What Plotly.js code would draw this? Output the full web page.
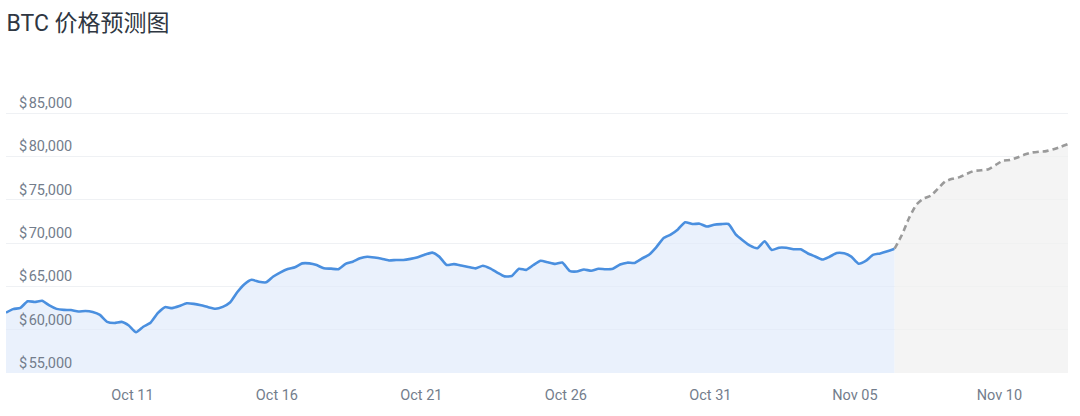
<!DOCTYPE html>
<html>
<head>
<meta charset="utf-8">
<script src="https://cdn.plot.ly/plotly-3.0.1.min.js"></script>
<style>
html,body{margin:0;padding:0;background:#fff;}
#chart{width:1080px;height:416px;}
</style>
</head>
<body>
<div id="chart"></div>
<script>
// Time grid: history starts Oct 6 15:00, 6-hour steps
const startTime = "2024-10-06T15:00:00";
const stepHours = 6;

// Historical BTC prices (USD), every 6 hours
const historyValues = [
  61960, 62370, 62520, 63280, 63200, 63340, 62800, 62400, 62280, 62260,
  62090, 62150, 62030, 61700, 60900, 60770, 60900, 60480, 59710, 60340,
  60800, 61900, 62600, 62480, 62720, 63040, 62980, 62810, 62590, 62410,
  62630, 63130, 64310, 65250, 65760, 65530, 65460, 66130, 66620, 67000,
  67200, 67650, 67650, 67450, 67080, 67040, 66970, 67600, 67840, 68230,
  68410, 68320, 68180, 67990, 68040, 68040, 68170, 68360, 68660, 68890,
  68400, 67460, 67560, 67400, 67230, 67070, 67380, 67080, 66590, 66150,
  66190, 67030, 66900, 67460, 67950, 67780, 67590, 67750, 66790, 66710,
  66950, 66790, 67030, 66970, 67030, 67520, 67730, 67700, 68200, 68650,
  69500, 70550, 70970, 71570, 72400, 72190, 72230, 71900, 72110, 72180,
  72190, 71000, 70300, 69690, 69390, 70200, 69200, 69460, 69450, 69280,
  69270, 68790, 68450, 68090, 68420, 68840, 68810, 68420, 67610, 67930,
  68630, 68800, 69050, 69340
];

// Forecast prices (USD), every 6 hours, starting at the last historical point
const forecastValues = [
  69340, 70920, 72880, 74410, 75130, 75450, 76270, 77100, 77410, 77600,
  77980, 78320, 78390, 78520, 79010, 79500, 79570, 79870, 80200, 80440,
  80540, 80600, 80830, 81100, 81420
];

const yTicks = [55000, 60000, 65000, 70000, 75000, 80000, 85000];
const yTickLabels = ["$\u200a55,000", "$\u200a60,000", "$\u200a65,000", "$\u200a70,000", "$\u200a75,000", "$\u200a80,000", "$\u200a85,000"];
const xTicks = ["2024-10-11", "2024-10-16", "2024-10-21", "2024-10-26", "2024-10-31", "2024-11-05", "2024-11-10"];
const xTickLabels = ["Oct 11", "Oct 16", "Oct 21", "Oct 26", "Oct 31", "Nov 05", "Nov 10"];

function fmt(d){
  const p = n => String(n).padStart(2,"0");
  return d.getFullYear()+"-"+p(d.getMonth()+1)+"-"+p(d.getDate())+" "+p(d.getHours())+":"+p(d.getMinutes());
}
const t0 = new Date(startTime);
const histX = historyValues.map((_, i) => fmt(new Date(t0.getTime() + i*stepHours*3600e3)));
const fcStartIdx = historyValues.length - 1;
const fcX = forecastValues.map((_, j) => fmt(new Date(t0.getTime() + (fcStartIdx + j)*stepHours*3600e3)));

const traces = [
  {
    x: histX, y: historyValues, type: "scatter", mode: "lines",
    line: {color: "#4a8fdf", width: 2.6, shape: "spline", smoothing: 0.5},
    fill: "tozeroy", fillcolor: "rgba(222,234,251,0.65)",
    hoverinfo: "x+y", showlegend: false
  },
  {
    x: fcX, y: forecastValues, type: "scatter", mode: "lines",
    line: {color: "#9a9a9a", width: 2.6, dash: "6px,4px", shape: "spline", smoothing: 0.5},
    fill: "tozeroy", fillcolor: "rgba(240,240,240,0.75)",
    hoverinfo: "x+y", showlegend: false
  }
];

const layout = {
  width: 1080, height: 416,
  margin: {l: 6, r: 12, t: 74, b: 43},
  paper_bgcolor: "#ffffff",
  plot_bgcolor: "#ffffff",
  font: {family: "Roboto, 'Noto Sans CJK SC', sans-serif", color: "#737d8c", size: 14.5},
  title: {
    text: "BTC 价格预测图",
    xref: "container", yref: "container",
    x: 0.006, xanchor: "left",
    y: 0.945, yanchor: "middle",
    font: {family: "Roboto, 'Noto Sans CJK SC', sans-serif", size: 23, color: "#2f3742"}
  },
  xaxis: {
    type: "date",
    range: [histX[0], fcX[fcX.length - 1]],
    tickvals: xTicks,
    ticktext: xTickLabels,
    showgrid: false, zeroline: false, showline: false,
    ticks: "", ticklabelstandoff: 11,
    tickfont: {size: 14.5, color: "#737d8c"},
    fixedrange: true
  },
  yaxis: {
    range: [55000, 89500],
    tickvals: yTicks,
    ticktext: yTickLabels,
    ticklabelposition: "inside top",
    ticklabelstandoff: 10,
    showgrid: true, gridcolor: "#eff1f4", gridwidth: 1,
    zeroline: false, showline: false, ticks: "",
    tickfont: {size: 14.5, color: "#737d8c"},
    fixedrange: true
  },
  showlegend: false
};

Plotly.newPlot("chart", traces, layout, {displayModeBar: false, staticPlot: true});
</script>
</body>
</html>
